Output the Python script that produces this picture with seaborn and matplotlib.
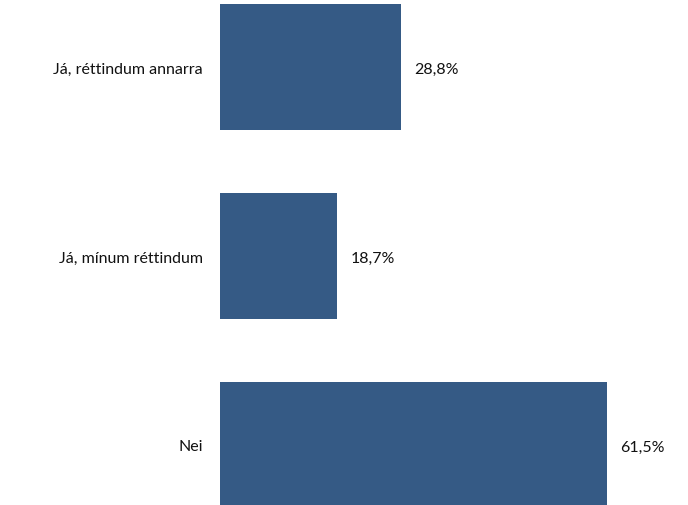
import matplotlib as mpl
mpl.use("Agg")
import matplotlib.pyplot as plt
import pandas as pd
import seaborn as sns

# chart data
categories = ["Já, réttindum annarra", "Já, mínum réttindum", "Nei"]
values = [28.8, 18.7, 61.5]

BAR_COLOR = "#355A85"

sns.set_style("white")
plt.rcParams["font.family"] = ["Lato", "DejaVu Sans"]

df = pd.DataFrame({"category": categories, "share": values})

fig = plt.figure(figsize=(6.88, 5.06), dpi=100)
ax = fig.add_axes([219.5 / 688, 0, 1 - 219.5 / 688, 1])

sns.barplot(
    data=df,
    x="share",
    y="category",
    order=categories,
    orient="h",
    color=BAR_COLOR,
    saturation=1,
    width=0.667,
    edgecolor="none",
    ax=ax,
)

# axis limits so bars sit where they do in the original
ax.set_xlim(0, 74.4)
ax.set_ylim(2.318, -0.362)

# value labels with comma decimals
labels = [f"{v:.1f}%".replace(".", ",") for v in values]
txts = ax.bar_label(ax.containers[0], labels=labels, padding=9.5, fontsize=11.5, color="#111111")
for t in txts:
    t.set_va("center_baseline")

ax.set_xlabel("")
ax.set_ylabel("")
ax.set_xticks([])
ax.tick_params(axis="y", length=0, pad=12, labelsize=11.5, labelcolor="#111111")
for lab in ax.get_yticklabels():
    lab.set_va("center_baseline")
for side in ["top", "right", "bottom", "left"]:
    ax.spines[side].set_visible(False)

fig.savefig("out.png", dpi=100)
